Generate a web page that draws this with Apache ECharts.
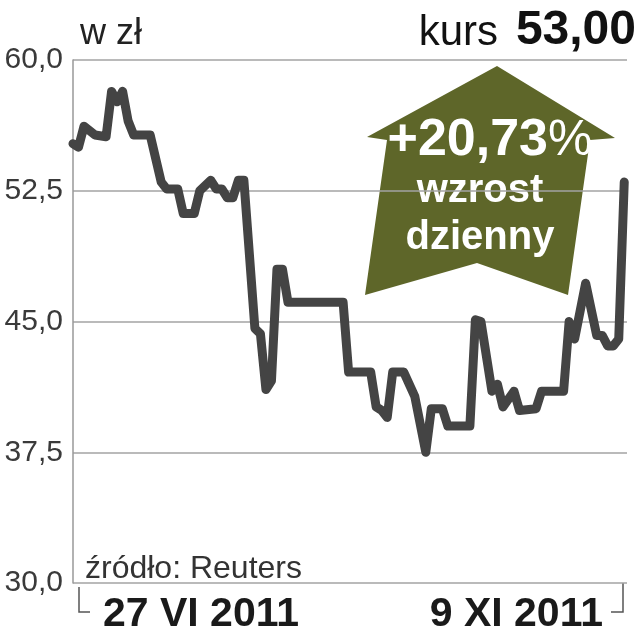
<!DOCTYPE html>
<html>
<head>
<meta charset="utf-8">
<script src="https://cdn.jsdelivr.net/npm/echarts@6/dist/echarts.min.js"></script>
<style>
html, body { margin: 0; padding: 0; background: #fff; }
#chart { width: 640px; height: 640px; }
</style>
</head>
<body>
<div id="chart"></div>
<script>
// dni sesyjne (indeks) i kurs zamknięcia w zł
var days = [0, 1, 2, 4, 6, 7, 8, 9, 10, 11, 14, 16, 17, 19, 20, 22, 23, 25, 26, 27, 28, 29, 30, 31,
    33, 34, 35, 36, 37, 38, 39, 49, 50, 54, 55, 56, 57, 58, 60, 62, 64, 65, 67, 68, 72, 73, 74,
    76, 77, 78, 80, 81, 84, 85, 89, 90, 91, 93, 95, 96, 97, 98, 99, 100];
var prices = [55.2, 55.0, 56.2, 55.7, 55.6, 58.2, 57.6, 58.2, 56.5, 55.7, 55.7, 53.0, 52.6, 52.6, 51.2, 51.2, 52.5, 53.1, 52.6, 52.6, 52.1, 52.1, 53.1, 53.1,
    44.6, 44.3, 41.1, 41.6, 48.0, 48.0, 46.1, 46.1, 42.1, 42.1, 40.1, 39.9, 39.5, 42.1, 42.1, 40.7, 37.5, 40.0, 40.0, 39.0, 39.0, 45.1, 45.0,
    41.0, 41.4, 40.1, 41.0, 39.9, 40.0, 41.0, 41.0, 45.0, 44.0, 47.2, 44.2, 44.2, 43.6, 43.6, 44.0, 53.0];
var dateLabels = ['27 VI 2011', '9 XI 2011'];
var yTicks = [30, 37.5, 45, 52.5, 60];
var lastPrice = '53,00';
var change = '+20,73';

var points = days.map(function (d, i) { return [d, prices[i]]; });

var font = '"Liberation Sans", Arial, sans-serif';
var chart = echarts.init(document.getElementById('chart'));

var option = {
    animation: false,
    backgroundColor: '#fff',
    grid: { left: 73, right: 13, top: 60, bottom: 57 },
    xAxis: {
        type: 'value',
        min: 0,
        max: 100.5,
        show: false
    },
    yAxis: {
        type: 'value',
        min: yTicks[0],
        max: yTicks[yTicks.length - 1],
        interval: 7.5,
        axisLine: { show: true, lineStyle: { color: '#999', width: 1.5 } },
        axisTick: { show: false },
        axisLabel: {
            margin: 10,
            fontFamily: font,
            fontSize: 30,
            color: '#3a3a3a',
            formatter: function (v) { return v.toFixed(1).replace('.', ','); }
        },
        splitLine: { show: true, lineStyle: { color: '#a3a3a3', width: 1.5 } }
    },
    series: [{
        type: 'line',
        data: points,
        showSymbol: false,
        lineStyle: { color: '#444', width: 9, join: 'round', cap: 'round' }
    }],
    graphic: [
        { type: 'text', style: { text: 'w zł', x: 80, y: 34, font: '36px ' + font, fill: '#222', textAlign: 'left', textVerticalAlign: 'middle' } },
        { type: 'text', style: { text: 'kurs', x: 498, y: 33, font: '42px ' + font, fill: '#111', textAlign: 'right', textVerticalAlign: 'middle' } },
        { type: 'text', style: { text: lastPrice, x: 636, y: 31, font: 'bold 48px ' + font, fill: '#111', textAlign: 'right', textVerticalAlign: 'middle' } },
        {
            type: 'polygon',
            shape: { points: [[367, 137], [497, 66], [615, 138], [590, 140], [568, 295], [477, 263], [365, 295], [387, 140]] },
            style: { fill: '#5e6629' }
        },
        {
            type: 'text',
            style: {
                text: '{a|' + change + '}{b|%}', x: 490, y: 141, fill: '#fff', textAlign: 'center', textVerticalAlign: 'middle',
                rich: {
                    a: { fontFamily: font, fontWeight: 'bold', fontSize: 52, fill: '#fff' },
                    b: { fontFamily: font, fontSize: 50, fill: '#fff' }
                }
            }
        },
        { type: 'text', style: { text: 'wzrost', x: 480, y: 191, font: 'bold 40px ' + font, fill: '#fff', textAlign: 'center', textVerticalAlign: 'middle' } },
        { type: 'text', style: { text: 'dzienny', x: 480, y: 238, font: 'bold 40px ' + font, fill: '#fff', textAlign: 'center', textVerticalAlign: 'middle' } },
        { type: 'text', style: { text: 'źródło: Reuters', x: 85, y: 569, font: '32px ' + font, fill: '#333', textAlign: 'left', textVerticalAlign: 'middle' } },
        { type: 'polyline', shape: { points: [[79, 587], [79, 612], [90, 612]] }, style: { stroke: '#555', lineWidth: 1.5, fill: null } },
        { type: 'polyline', shape: { points: [[611, 612], [623, 612], [623, 583]] }, style: { stroke: '#555', lineWidth: 1.5, fill: null } },
        { type: 'text', style: { text: dateLabels[0], x: 103, y: 615, font: 'bold 41px ' + font, fill: '#1a1a1a', textAlign: 'left', textVerticalAlign: 'middle' } },
        { type: 'text', style: { text: dateLabels[1], x: 603, y: 615, font: 'bold 41px ' + font, fill: '#1a1a1a', textAlign: 'right', textVerticalAlign: 'middle' } }
    ]
};

chart.setOption(option);
</script>
</body>
</html>
